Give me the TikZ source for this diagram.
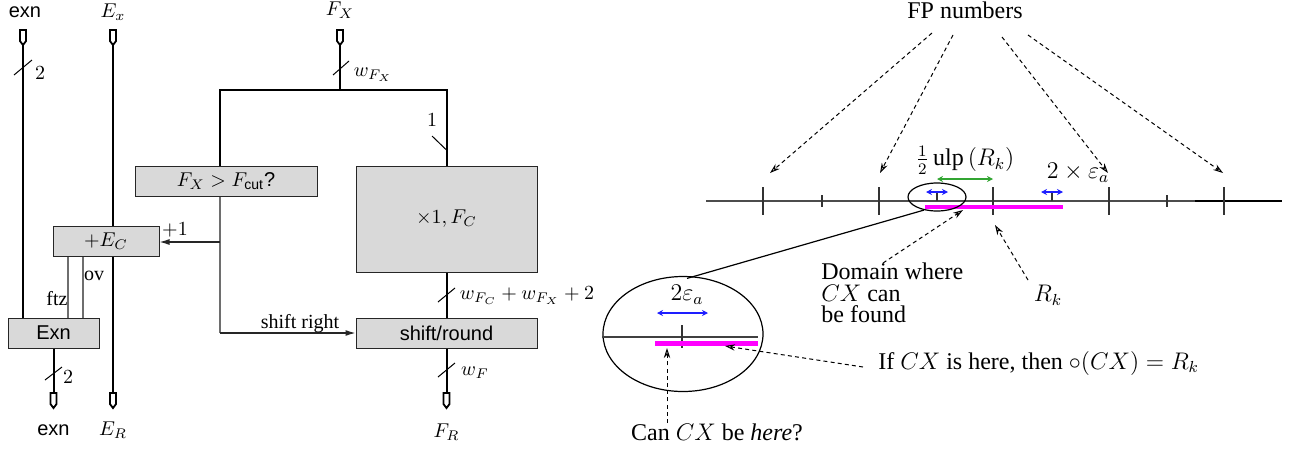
\documentclass[tikz,border=0pt]{standalone}
\usepackage{fontspec}
\setmainfont{Liberation Serif}
\setsansfont{Liberation Sans}
\usetikzlibrary{arrows.meta,shapes.geometric}
\definecolor{boxgray}{RGB}{217,217,217}
\definecolor{linegray}{RGB}{110,110,110}
\definecolor{mygreen}{RGB}{50,165,50}
\definecolor{myblue}{RGB}{30,30,255}
\definecolor{mymag}{RGB}{255,0,255}
\begin{document}
\begin{tikzpicture}[x=0.5pt,y=-0.5pt,
  font=\fontsize{10}{12}\selectfont,
  blk/.style={draw=black!85, fill=boxgray, line width=0.5pt, inner sep=0pt},
  bus/.style={line width=1pt, black},
  thin/.style={line width=0.6pt, linegray},
  slash/.style={line width=0.5pt, black},
  pinshape/.style={line width=0.9pt, black, fill=white},
  big/.style={font=\fontsize{12}{10.8}\selectfont},
  dsh/.style={line width=0.5pt, dash pattern=on 2pt off 1.6pt, -{Stealth[open,length=5pt,width=3.2pt]}},
  tick/.style={line width=0.6pt, black!80},
  dbl/.style={line width=0.7pt, {Stealth[length=3pt,width=3pt]}-{Stealth[length=3pt,width=3pt]}}
]
\useasboundingbox (0,0) rectangle (1300,451);

% ---------------- left diagram ----------------
% top labels
\node (lexn) at (25,12) {\sffamily exn};
\node (lex) at (113,12) {$E_x$};
\node (lfx) at (340,10) {$F_X$};
% pins (top)
\foreach \px/\nm in {23/pa,113/pb,340/pd}{
  \draw[pinshape] (\px-3,30) -- (\px+3,30) -- (\px+3,41) -- (\px,45) -- (\px-3,41) -- cycle;
  \coordinate (\nm) at (\px,45);
}
% pins (bottom)
\foreach \px/\nm in {53.5/pc,113/pe,446.5/pf}{
  \draw[pinshape] (\px-3,393) -- (\px+3,393) -- (\px+3,404) -- (\px,408) -- (\px-3,404) -- cycle;
  \coordinate (\nm) at (\px,393);
}
% boxes
\node[blk, minimum width=45.5pt, minimum height=15pt] (exnbox) at (53.5,333) {\sffamily Exn};
\node[blk, minimum width=53pt, minimum height=15pt] (ecbox) at (106,241.5) {$+E_C$};
\node[blk, minimum width=91pt, minimum height=15pt] (cmpbox) at (226,181) {$F_X > F_{\mathsf{cut}}$\textsf{?}};
\node[blk, minimum width=90.5pt, minimum height=53pt] (mulbox) at (446.5,219) {$\times 1, F_C$};
\node[blk, minimum width=90.5pt, minimum height=15pt] (srbox) at (446.5,333) {\raisebox{-2.2pt}{\sffamily shift/round}};

% bottom labels
\node (bexn) at (53.5,430) {\sffamily exn};
\node (ber) at (113,430) {$E_R$};
\node (bfr) at (446.5,432) {$F_R$};

% buses
\draw[bus] (pa) -- (pa |- exnbox.north);
\draw[bus] (pb) -- (pb |- ecbox.north);
\draw[bus] (ecbox.south -| pb) -- (pe);
\draw[bus] (exnbox.south) -- (pc);
\coordinate (jx) at (340,90);
\coordinate (jl) at (220,90);
\coordinate (jr) at (446.5,90);
\draw[bus] (pd) -- (jx);
\draw[bus] (jl |- cmpbox.north) -- (jl) -- (jr) -- (mulbox.north);
\draw[bus] (mulbox.south) -- (srbox.north);
\draw[bus] (srbox.south) -- (pf);

% ftz / ov
\draw[thin] (68,0 |- ecbox.south) -- (68,0 |- exnbox.north);
\draw[thin] (83,0 |- ecbox.south) -- (83,0 |- exnbox.north);
\node (ftz) at (57,299) {ftz};
\node (ov) at (94,276) {ov};

% control lines
\coordinate (cb) at (220,333);
\coordinate (cm) at (220,242);
\draw[thin] (jl |- cmpbox.south) -- (cb);
\draw[line width=0.6pt, black!85, -{Latex[length=5pt,width=3pt]}] (cb) -- (srbox.west);
\draw[line width=0.6pt, black!85, -{Latex[length=5pt,width=3pt]}] (cm) -- (cm -| ecbox.east);
\node (plus1) at (175,230) {$+1$};
\node (shr) at (300,324) {shift right};

% bus slashes and widths
\draw[slash] (14,75) -- (32,60);
\node (w2a) at (40,73) {$2$};
\draw[slash] (333,75) -- (349,61);
\node (wfx) at (373,75) {$w_{F_X}$};
\draw[slash] (432,136) -- (446.5,150);
\node (w1) at (432,120) {$1$};
\draw[slash] (438,302) -- (455,288);
\node (wsum) at (527,296) {$w_{F_C}+w_{F_X}+2$};
\draw[slash] (438,377) -- (455,363);
\node (wf) at (475,373) {$w_F$};
\draw[slash] (45,380) -- (62,367);
\node (w2b) at (68,377) {$2$};

% ---------------- right diagram ----------------
\node[big] (fp) at (965,10) {FP numbers};
\draw[line width=0.6pt, black!70] (706,201) -- (1195,201);
\draw[line width=1pt, black] (1195,201) -- (1282,201);
\foreach \tx in {763,879,993,1109,1224}{\draw[tick] (\tx,187) -- (\tx,215);}
\foreach \tx in {822,1167}{\draw[tick] (\tx,195) -- (\tx,207);}
\foreach \tx in {937,1052}{\draw[tick] (\tx,193) -- (\tx,201);}
\draw[line width=2pt, mymag] (925,207) -- (1063,207);
\draw[dbl, myblue] (926,192) -- (948,192);
\draw[dbl, myblue] (1041,192) -- (1063,192);
\draw[dbl, mygreen] (937,179) -- (993,179);
\node[big] (ulp) at (965,160) {$\frac{1}{2}\,\mathrm{ulp}\,(R_k)$};
\node[big] (eps) at (1078,173) {$2\times\varepsilon_a$};

% FP arrows
\coordinate (t1) at (770,173);
\coordinate (t2) at (880,173);
\coordinate (t3) at (1108,173);
\coordinate (t4) at (1223,173);
\draw[dsh] (932,33) -- (t1);
\draw[dsh] (953,35) -- (t2);
\draw[dsh] (1002,37) -- (t3);
\draw[dsh] (1028,35) -- (t4);

% ellipses
\node[draw, ellipse, line width=0.6pt, minimum width=29pt, minimum height=14pt, inner sep=0pt] (small) at (937,197) {};
\node[draw, ellipse, line width=0.6pt, minimum width=80pt, minimum height=57.5pt, inner sep=0pt] (zoom) at (683,334) {};
\node[big] (eps2) at (687,295) {$2\varepsilon_a$};
\draw[line width=0.6pt] (small.225) -- (eps2.north);
% inside zoom
\draw[line width=0.6pt, black!75] (zoom.west |- 0,337) -- (758,337);
\draw[tick] (682,325) -- (682,348);
\draw[line width=2.5pt, mymag] (655,343) -- (758,343);
\draw[dbl, myblue] (657,313) -- (708,313);

% texts
\node[big] (can) at (717,432) {Can $CX$ be \emph{here}?};
\coordinate (canto) at (667,348);
\draw[dsh] (667,423) -- (canto);
\node[big, anchor=west, inner sep=0pt] (ifcx) at (878,363) {If $CX$ is here, then $\circ(CX)=R_k$};
\coordinate (ifto) at (725,346);
\draw[dsh] (863,367) -- (ifto);
\node[big, anchor=west, align=left, inner sep=0pt] (dom) at (821,293) {Domain where\\$CX$ can\\be found};
\coordinate (domto) at (963,210);
\draw[dsh] (883,263) -- (domto);
\node[big] (rk) at (1048,295) {$R_k$};
\coordinate (rkto) at (995,225);
\draw[dsh] (1028,280) -- (rkto);
\end{tikzpicture}
\end{document}
